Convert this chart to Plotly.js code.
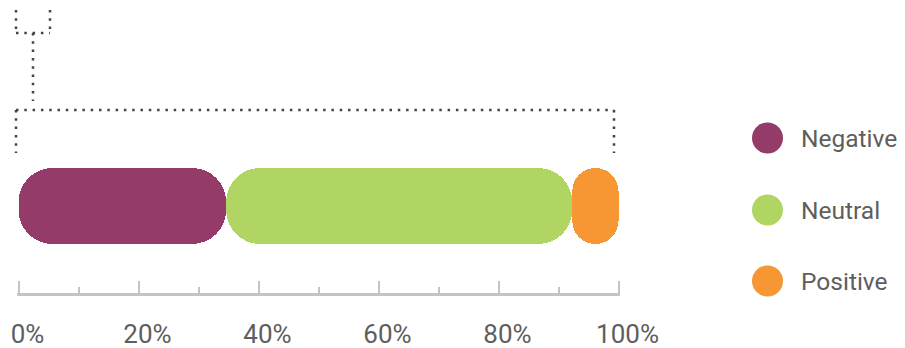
<!DOCTYPE html>
<html>
<head>
<meta charset="utf-8">
<script src="https://cdn.plot.ly/plotly-3.0.1.min.js"></script>
<style>html,body{margin:0;padding:0;background:#fff;overflow:hidden}#chart{width:905px;height:348px}</style>
</head>
<body>
<div id="chart"></div>
<script>
// ---- data ----
const categories = ['Negative', 'Neutral', 'Positive'];
const shares = [34.6, 57.7, 7.7];           // percent of responses
const tickValues = [0, 20, 40, 60, 80, 100];
const tickLabels = ['0%', '20%', '40%', '60%', '80%', '100%'];
const legendExtraColor = '#1d5c73';          // partly visible item at top (cut off)

// ---- styles ----
const colors = {Negative: '#953b6a', Neutral: '#b0d563', Positive: '#f79734'};
const W = 905, H = 348;
const axisGrey = '#c4c4c4';
const textGrey = '#5e5e5e';
const FONT = 'Roboto, "Noto Sans", sans-serif';
const BAR_Y = 206, BAR_T = 76, RADIUS = 34;
const PAD = 0.25;                             // tiny range padding so end ticks are drawn
const PXU = 6;                                // pixels per percent

const traces = [];
let start = 0;
categories.forEach((c, i) => {
  const v = shares[i];
  traces.push({type: 'bar', orientation: 'h', y: [BAR_Y], x: [v], base: [start], width: BAR_T,
    marker: {color: colors[c], cornerradius: RADIUS, line: {width: 0}}, name: c, showlegend: false, hoverinfo: 'skip'});
  start += v;
});

// custom legend on a pixel-like overlay axis
const legendY = [-13, 138, 210, 281];
const legendColors = [legendExtraColor].concat(categories.map(c => colors[c]));
traces.push({type: 'scatter', mode: 'markers', xaxis: 'x2', yaxis: 'y',
  x: legendY.map(() => 767.5), y: legendY, cliponaxis: false,
  marker: {size: 31, color: legendColors, line: {width: 0}}, showlegend: false, hoverinfo: 'skip'});

const annotations = categories.map((c, i) => ({
  xref: 'x2', yref: 'y', x: 799, y: legendY[i + 1], xanchor: 'left', yanchor: 'middle',
  text: c, showarrow: false, font: {family: FONT, size: 24.5, color: textGrey}
}));

// dotted bracket decoration
const px = x => x / W;
const dotLine = {color: '#444444', width: 2.5, dash: '2.5px,5.8px'};
const seg = (x0, y0, x1, y1) => ({type: 'line', xref: 'paper', yref: 'y', x0: px(x0), x1: px(x1), y0: y0, y1: y1, line: dotLine});
const shapes = [
  seg(16, 10, 16, 33), seg(50, 10, 50, 33), seg(16, 33, 50, 33),
  seg(33, 33, 33, 101),
  seg(16, 110, 614, 110), seg(16, 110, 16, 153), seg(614, 110, 614, 153)
];

const x0px = 18.5 - PAD * PXU, x1px = 618.5 + PAD * PXU;

const layout = {
  width: W, height: H,
  margin: {l: 0, r: 0, t: 0, b: 55, pad: 0},
  paper_bgcolor: '#ffffff', plot_bgcolor: '#ffffff',
  barmode: 'overlay', bargap: 0,
  showlegend: false,
  xaxis: {domain: [x0px / W, x1px / W], range: [-PAD, 100 + PAD], fixedrange: true,
    tickmode: 'array', tickvals: tickValues, ticktext: tickLabels,
    ticks: 'inside', ticklen: 12, tickwidth: 2, tickcolor: axisGrey,
    showline: true, linecolor: axisGrey, linewidth: 2.5,
    showgrid: false, zeroline: false,
    minor: {tickmode: 'linear', dtick: 10, tick0: 0, ticks: 'inside', ticklen: 6, tickwidth: 2, tickcolor: axisGrey, showgrid: false},
    tickfont: {family: FONT, size: 26, color: textGrey}, ticklabelstandoff: 16, ticklabelshift: 9},
  xaxis2: {domain: [0.7, 1], range: [0.7 * W, W], visible: false, anchor: 'y', fixedrange: true},
  yaxis: {range: [H - 55, 0], visible: false, fixedrange: true, showgrid: false, zeroline: false},
  annotations: annotations,
  shapes: shapes
};

Plotly.newPlot('chart', traces, layout, {staticPlot: true, displayModeBar: false});
</script>
</body>
</html>
